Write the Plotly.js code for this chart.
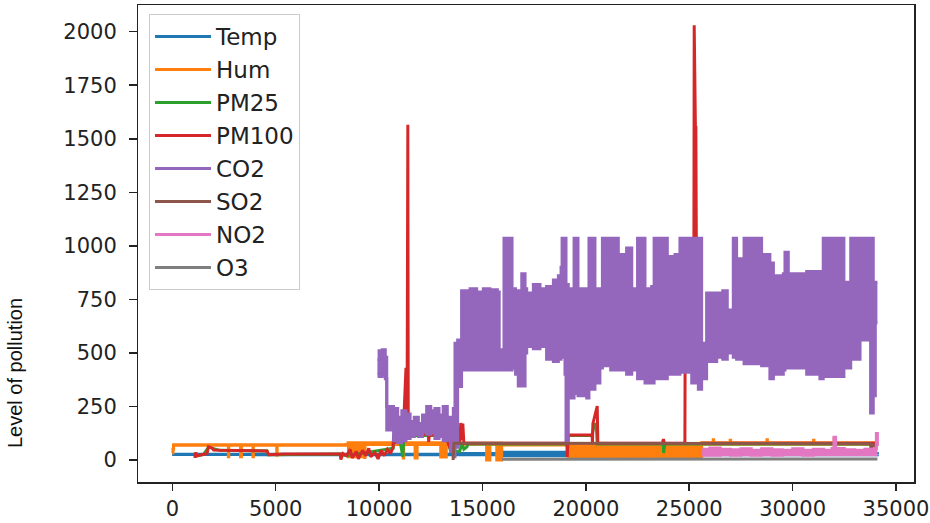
<!DOCTYPE html>
<html><head><meta charset="utf-8">
<script src="https://cdn.plot.ly/plotly-3.0.1.min.js"></script>
<style>html,body{margin:0;padding:0;background:#fff;} #chart{width:930px;height:523px;}</style>
</head><body><div id="chart"></div>
<script>
// ---- data ----
const seriesNames = ['Temp','Hum','PM25','PM100','CO2','SO2','NO2','O3'];
const seriesColors = ['#1f77b4','#ff7f0e','#2ca02c','#d62728','#9467bd','#8c564b','#e377c2','#7f7f7f'];

// Temp (band: low / high envelope, value holds until next x)
const tempX  = [0, 4000, 8000, 13500, 13650, 16000, 19100, 25600, 34100];
const tempLo = [26, 25, 25, 26, 24, 20, 25, 25, 26];
const tempHi = [27, 27, 27, 28, 30, 36, 30, 30, 28];

// Hum (band)
const humX  = [0, 30, 60, 2710, 2730, 3300, 3340, 3900, 3920, 5050, 5070, 8400, 8500, 8520, 9300, 9320, 11170, 11190, 11740, 11760, 11820, 11840, 12980, 13250, 13600, 15200, 15360, 15690, 15930, 19150, 25600, 26160, 26180, 26980, 27000, 28760, 28780, 31010, 31030, 32010, 32030, 34100];
const humLo = [33, 50, 70, 15, 70, 15, 70, 15, 70, 22, 70, 70, 72, 15, 12, 72, 9, 72, 9, 72, 9, 72, 14, 72, 74, 0, 74, 0, 70, 8, 74, 74, 74, 74, 74, 74, 74, 74, 74, 74, 74, 74];
const humHi = [70, 70, 70, 70, 70, 70, 70, 70, 70, 70, 70, 72, 80, 80, 80, 80, 80, 80, 80, 80, 80, 80, 80, 80, 78, 78, 78, 78, 76, 72, 80, 95, 80, 92, 80, 95, 80, 92, 80, 100, 80, 80];

// PM25 (line)
const pm25X = [1100, 1130, 1200, 1500, 1750, 2300, 4580, 4650, 8120, 8430, 10680, 10700, 11000, 11150, 11200, 11250, 11500, 12380, 12430, 13250, 13450, 13900, 14000, 14100, 14250, 14300, 19100, 19150, 20300, 20400, 20500, 20550, 23740, 23760, 23800, 23850, 34100];
const pm25Y = [10, 35, 20, 25, 60, 45, 42, 25, 28, 20, 55, 100, 95, 15, 107, 95, 115, 115, 115, 115, 45, 40, 80, 50, 62, 75, 75, 115, 115, 165, 168, 75, 75, 33, 60, 75, 75];

// PM100 (line, null = not visible in the picture)
const pm100X = [1100, 1130, 1200, 1500, 1680, 1750, 1930, 2000, 2300, 4580, 4650, 5370, 8120, 8150, 8250, 8430, 8600, 8700, 8900, 9000, 9200, 9350, 9500, 9600, 9800, 9950, 10100, 10250, 10400, 10550, 10680, 10700, 10800, 11000, 11150, 11300, 11340, 11360, 11390, 11410, 11500, 12380, 12400, 12430, 13250, 13300, 13450, 13700, 13900, 13950, 14000, 14050, 14100, 19080, 19100, 19150, 20300, 20320, 20340, 20550, 20580, 23700, 23750, 23800, 24790, 24800, 25220, 25240, 25260, 25280, 25300, 25320, 25340, 25360, 25530, 25600, 34100];
const pm100Y = [10, 35, 20, 25, 30, 62, 55, 47, 45, 42, 25, 28, 28, 2, 30, 20, 50, 10, 40, 5, 45, 20, 55, 15, 35, 5, 45, 20, 50, 30, 60, 117, 85, 100, 80, 430, 200, 430, 1565, 150, 120, 120, 85, 117, 117, 90, 50, 60, 80, 173, 93, 170, 78, 78, 14, 117, 117, 78, 170, 252, 78, 78, 98, 78, 78, 480, 600, 2030, 1700, 1950, 1540, 1560, 1300, 600, null, 78, 78];

// CO2 (band, value holds until next x)
const co2X  = [9920, 10000, 10150, 10300, 10370, 10700, 10900, 11100, 11300, 11500, 11700, 11900, 12100, 12300, 12500, 12700, 12900, 13100, 13300, 13450, 13590, 13670, 13800, 13990, 14400, 14720, 15040, 15360, 15720, 15810, 16040, 16430, 16600, 16730, 16900, 17060, 17140, 17460, 17780, 18100, 18430, 18670, 18800, 18850, 18990, 19040, 19150, 19430, 19620, 20040, 20150, 20440, 20680, 20800, 21090, 21200, 21570, 21970, 22220, 22500, 22860, 23180, 23300, 23940, 24310, 24550, 25120, 25440, 25600, 25840, 26330, 26620, 26840, 27130, 27290, 27650, 28500, 28900, 29070, 29550, 29630, 29790, 30680, 31320, 31480, 32480, 32810, 33260, 33660, 33770, 33900, 34000, 34100];
const co2Lo = [400, 390, 400, 380, 140, 90, 80, 90, 100, 110, 120, 110, 130, 120, 130, 100, 110, 90, 100, 40, 15, 60, 343, 420, 420, 420, 420, 420, 420, 420, 420, 430, 400, 345, 345, 500, 530, 520, 530, 470, 460, 470, 480, 480, 400, 80, 290, 310, 300, 290, 330, 360, 430, 440, 440, 420, 420, 400, 420, 380, 360, 360, 380, 400, 400, 410, 360, 330, 380, 460, 480, 470, 500, 480, 470, 450, 440, 380, 400, 420, 430, 430, 400, 380, 390, 430, 470, 560, 600, 220, 300, 640, 640];
const co2Hi = [470, 510, 515, 480, 250, 240, 200, 230, 215, 180, 200, 170, 210, 250, 230, 240, 210, 250, 200, 180, 240, 545, 560, 790, 800, 785, 800, 795, 785, 515, 1036, 800, 790, 790, 870, 800, 780, 820, 800, 810, 840, 860, 900, 1036, 1036, 820, 800, 1036, 800, 790, 1036, 800, 790, 1036, 940, 1036, 960, 990, 800, 1036, 800, 810, 1036, 950, 960, 1036, 1036, 1036, 545, 780, 780, 790, 700, 1036, 940, 1036, 960, 920, 860, 870, 970, 870, 880, 880, 1036, 830, 1036, 1036, 1036, 1036, 820, 830, 830];

// SO2 (line)
const so2X = [13580, 13620, 33750, 33800, 33850, 34000, 34100];
const so2Y = [0, 78, 76, 50, 76, 60, 76];

// NO2 (band)
const no2X  = [25620, 25700, 26000, 26500, 27000, 27500, 28000, 28500, 29000, 29500, 30000, 30500, 31000, 31500, 31900, 32000, 32080, 32500, 33000, 33500, 34000, 34050, 34100];
const no2Lo = [30, 22, 22, 24, 22, 24, 22, 24, 22, 24, 24, 22, 24, 24, 24, 24, 24, 24, 24, 24, 24, 28, 28];
const no2Hi = [35, 50, 56, 50, 48, 52, 46, 52, 48, 46, 52, 46, 50, 46, 54, 106, 54, 48, 46, 50, 52, 124, 66];

// O3 (line)
const o3X = [15950, 25600, 32000, 34100];
const o3Y = [4, 4, 5, 5];

const xTickStep = 5000, yTickStep = 250;

// ---- build traces ----
const traces = [];
function addLine(i, xs, ys) {
  traces.push({x: xs, y: ys, type: 'scatter', mode: 'lines', name: seriesNames[i],
    legendgroup: seriesNames[i], line: {color: seriesColors[i], width: 3}, connectgaps: false});
}
function addBand(i, xs, lo, hi) {
  traces.push({x: xs, y: lo, type: 'scatter', mode: 'lines', name: seriesNames[i],
    legendgroup: seriesNames[i], line: {color: seriesColors[i], width: 3, shape: 'hv'}});
  traces.push({x: xs, y: hi, type: 'scatter', mode: 'lines', name: seriesNames[i],
    legendgroup: seriesNames[i], showlegend: false, fill: 'tonexty',
    fillcolor: seriesColors[i], line: {color: seriesColors[i], width: 3, shape: 'hv'}});
}
addBand(0, tempX, tempLo, tempHi);
addBand(1, humX, humLo, humHi);
addLine(2, pm25X, pm25Y);
addLine(3, pm100X, pm100Y);
addBand(4, co2X, co2Lo, co2Hi);
addLine(5, so2X, so2Y);
addBand(6, no2X, no2Lo, no2Hi);
addLine(7, o3X, o3Y);

const tickFont = {family: 'DejaVu Sans', size: 21, color: '#222'};
const axisCommon = {showline: true, mirror: true, linecolor: '#222', linewidth: 1.5,
  ticks: 'outside', ticklen: 7.5, tickwidth: 1.5, tickcolor: '#222',
  showgrid: false, zeroline: false, tickfont: tickFont, tickformat: 'd'};

const layout = {
  width: 930, height: 523,
  margin: {l: 138, r: 16, t: 5, b: 41, autoexpand: false},
  paper_bgcolor: '#fff', plot_bgcolor: '#fff',
  showlegend: true,
  xaxis: Object.assign({}, axisCommon, {range: [-1660, 35870], tick0: 0, dtick: xTickStep}),
  yaxis: Object.assign({}, axisCommon, {range: [-102.7, 2124.7], tick0: 0, dtick: yTickStep, ticklabelstandoff: 8}),
  legend: {x: 0.0142, y: 0.981, xanchor: 'left', yanchor: 'top',
    bgcolor: 'rgba(255,255,255,0.8)', bordercolor: '#cccccc', borderwidth: 1,
    font: {family: 'DejaVu Sans', size: 23, color: '#222'},
    traceorder: 'grouped', tracegroupgap: 0.1, itemwidth: 56},
  annotations: [{xref: 'paper', yref: 'paper', x: -0.1585, y: 0.2285,
    xanchor: 'center', yanchor: 'middle', textangle: -90, showarrow: false,
    text: 'Level of pollution', font: {family: 'Liberation Sans', size: 20, color: '#111'}}]
};

Plotly.newPlot('chart', traces, layout, {staticPlot: true, displayModeBar: false});
</script>
</body></html>
